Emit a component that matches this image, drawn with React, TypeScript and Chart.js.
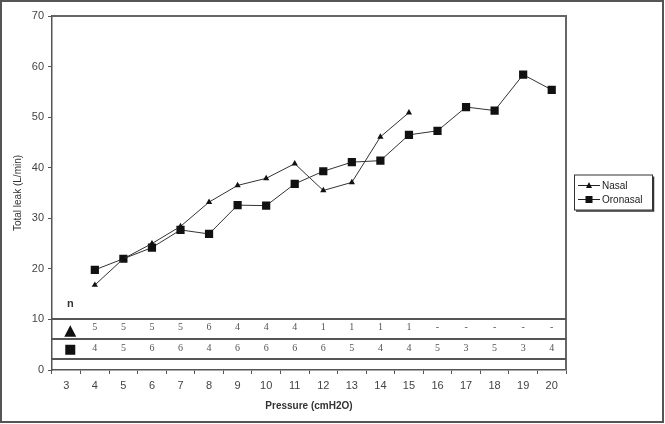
import React, { useEffect, useRef } from 'react';
import { Chart, registerables } from 'chart.js';

Chart.register(...registerables);

const categories = ['3', '4', '5', '6', '7', '8', '9', '10', '11', '12', '13', '14', '15', '16', '17', '18', '19', '20'];
const nasal = [null, 16.8, 22, 25, 28.4, 33.2, 36.5, 37.9, 40.8, 35.5, 37.1, 46.1, 50.9, null, null, null, null, null];
const oronasal = [null, 19.8, 22, 24.2, 27.7, 26.9, 32.6, 32.5, 36.8, 39.3, 41.1, 41.4, 46.5, 47.3, 52, 51.3, 58.4, 55.4];
const nNasal = ['', '5', '5', '5', '5', '6', '4', '4', '4', '1', '1', '1', '1', '-', '-', '-', '-', '-'];
const nOronasal = ['', '4', '5', '6', '6', '4', '6', '6', '6', '6', '5', '4', '4', '5', '3', '5', '3', '4'];
const seriesNames = ['Nasal', 'Oronasal'];
const yTitle = 'Total leak (L/min)';
const xTitle = 'Pressure (cmH2O)';

function tri(ctx: CanvasRenderingContext2D, cx: number, cy: number, s: number) {
  const h = s * 0.866;
  ctx.beginPath();
  ctx.moveTo(cx, cy - h / 2 - 1);
  ctx.lineTo(cx + s / 2, cy + h / 2);
  ctx.lineTo(cx - s / 2, cy + h / 2);
  ctx.closePath();
  ctx.fill();
}
function sq(ctx: CanvasRenderingContext2D, cx: number, cy: number, s: number) {
  ctx.fillRect(cx - s / 2, cy - s / 2, s, s);
}

const decor = {
  id: 'decor',
  afterDatasetsDraw(chart: any) {
    const { ctx, chartArea: ca, scales } = chart;
    const x = scales.x;
    const y = scales.y;
    ctx.save();
    // outer frame
    ctx.strokeStyle = '#555';
    ctx.lineWidth = 2;
    ctx.strokeRect(1, 1, chart.width - 3, chart.height - 3);
    // plot frame top/right
    ctx.strokeStyle = '#666';
    ctx.lineWidth = 2;
    ctx.beginPath();
    ctx.moveTo(ca.left, ca.top);
    ctx.lineTo(ca.right, ca.top);
    ctx.lineTo(ca.right, ca.bottom);
    ctx.stroke();
    // table lines
    ctx.strokeStyle = '#555';
    ctx.lineWidth = 2;
    [10, 6.2, 2.2].forEach((v) => {
      const py = Math.round(y.getPixelForValue(v));
      ctx.beginPath();
      ctx.moveTo(ca.left, py);
      ctx.lineTo(ca.right, py);
      ctx.stroke();
    });
    // table numbers
    ctx.fillStyle = '#555';
    ctx.font = '10px "Liberation Serif"';
    ctx.textAlign = 'center';
    ctx.textBaseline = 'middle';
    const r1 = y.getPixelForValue(8.4);
    const r2 = y.getPixelForValue(4.3);
    categories.forEach((_, i) => {
      const px = x.getPixelForValue(i);
      if (nNasal[i]) ctx.fillText(nNasal[i], px, r1);
      if (nOronasal[i]) ctx.fillText(nOronasal[i], px, r2);
    });
    // row markers and n
    const mx = x.getPixelForValue(0) + 4;
    ctx.fillStyle = '#111';
    tri(ctx, mx, y.getPixelForValue(7.6), 12);
    sq(ctx, mx, y.getPixelForValue(4), 10);
    ctx.fillStyle = '#333';
    ctx.font = 'bold 11px "Liberation Sans"';
    ctx.fillText('n', mx, y.getPixelForValue(13));
    // legend
    const lx = ca.right + 8;
    const cy = (ca.top + ca.bottom) / 2;
    const bw = 78;
    const bh = 35;
    const by = cy - bh / 2 - 1;
    ctx.fillStyle = '#fff';
    ctx.fillRect(lx, by, bw, bh);
    ctx.strokeStyle = '#333';
    ctx.lineWidth = 1;
    ctx.strokeRect(lx + 0.5, by + 0.5, bw, bh);
    ctx.lineWidth = 1.5;
    ctx.beginPath();
    ctx.moveTo(lx + bw + 1.5, by + 2);
    ctx.lineTo(lx + bw + 1.5, by + bh + 1.5);
    ctx.lineTo(lx + 2, by + bh + 1.5);
    ctx.stroke();
    ctx.font = '10px "Liberation Sans"';
    ctx.textAlign = 'left';
    seriesNames.forEach((name, i) => {
      const ey = by + 11 + i * 14;
      ctx.strokeStyle = '#222';
      ctx.lineWidth = 1;
      ctx.beginPath();
      ctx.moveTo(lx + 4, ey);
      ctx.lineTo(lx + 26, ey);
      ctx.stroke();
      ctx.fillStyle = '#111';
      if (i === 0) tri(ctx, lx + 15, ey, 6);
      else sq(ctx, lx + 15, ey, 7);
      ctx.fillStyle = '#222';
      ctx.fillText(name, lx + 28, ey + 0.5);
    });
    ctx.restore();
  },
};

export default function App() {
  const ref = useRef<HTMLCanvasElement | null>(null);
  useEffect(() => {
    if (!ref.current) return;
    const chart = new Chart(ref.current, {
      type: 'line',
      data: {
        labels: categories,
        datasets: [
          {
            label: seriesNames[0],
            data: nasal,
            borderColor: '#333',
            borderWidth: 1,
            backgroundColor: '#111',
            pointStyle: 'triangle',
            pointRadius: 3.6,
            pointBorderWidth: 0,
            pointBackgroundColor: '#111',
            tension: 0,
            spanGaps: false,
          },
          {
            label: seriesNames[1],
            data: oronasal,
            borderColor: '#333',
            borderWidth: 1,
            backgroundColor: '#111',
            pointStyle: 'rect',
            pointRadius: 5.8,
            pointBorderWidth: 0,
            pointBackgroundColor: '#111',
            tension: 0,
            spanGaps: false,
          },
        ],
      },
      options: {
        responsive: false,
        animation: false,
        layout: { padding: { left: 0, top: 16, right: 99, bottom: 0 } },
        plugins: { legend: { display: false }, tooltip: { enabled: false } },
        scales: {
          x: {
            type: 'category',
            offset: true,
            grid: { offset: true, drawOnChartArea: false, drawTicks: true, tickLength: 4, color: '#555' },
            border: { color: '#555', width: 1.5 },
            ticks: { color: '#444', font: { family: '"Liberation Sans"', size: 11 }, padding: 5, maxRotation: 0, autoSkip: false },
            title: { display: true, text: xTitle, color: '#333', font: { family: '"Liberation Sans"', size: 10, weight: 'bold' }, padding: { top: 0, bottom: 12 } },
            afterFit: (s: any) => { s.height = 54; },
          },
          y: {
            min: 0,
            max: 70,
            ticks: { stepSize: 10, color: '#444', font: { family: '"Liberation Sans"', size: 11 }, padding: 4 },
            grid: { drawOnChartArea: false, drawTicks: true, tickLength: 4, color: '#555' },
            border: { color: '#555', width: 1.5 },
            title: { display: true, text: yTitle, color: '#333', font: { family: '"Liberation Sans"', size: 10 }, padding: { top: 12, bottom: 0 } },
            afterFit: (s: any) => { s.width = 52; },
          },
        },
      },
      plugins: [decor],
    });
    return () => chart.destroy();
  }, []);
  return (
    <div style={{ position: 'absolute', left: 0, top: 0, width: 665, height: 424, background: '#fff' }}>
      <canvas ref={ref} width={665} height={424} />
    </div>
  );
}
